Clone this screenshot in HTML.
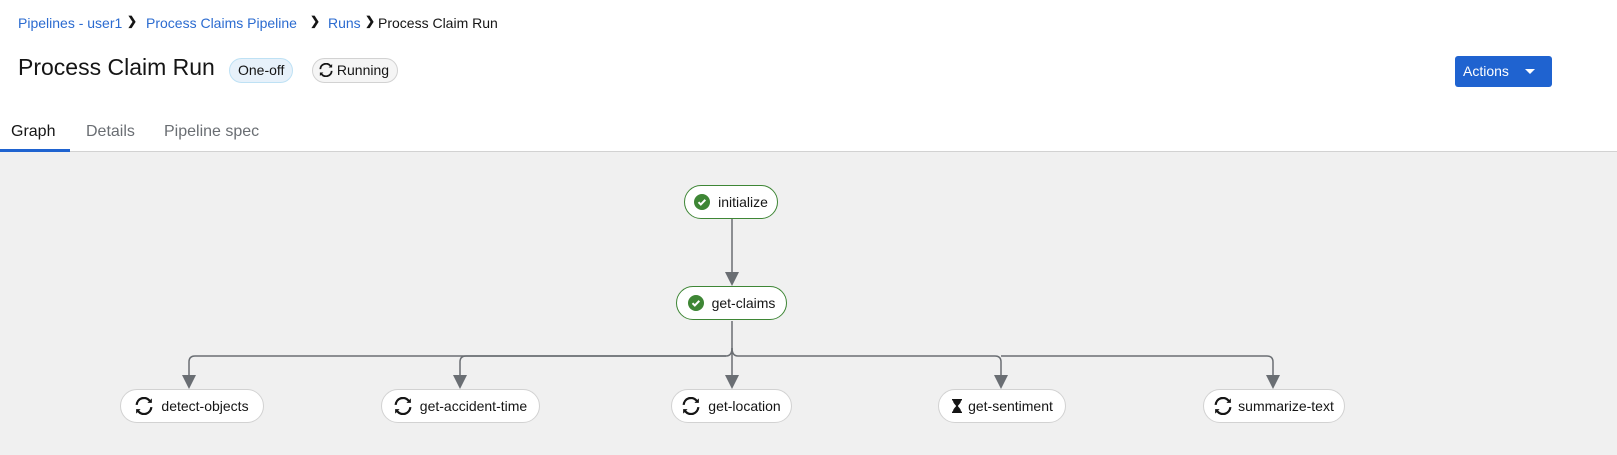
<!DOCTYPE html>
<html><head><meta charset="utf-8"><style>
*{margin:0;padding:0;box-sizing:border-box}
body{width:1617px;height:455px;overflow:hidden;background:#fff;font-family:"Liberation Sans",sans-serif;position:relative}
.a{position:absolute;white-space:nowrap}
.bc{top:15px;font-size:14px;color:#2b6bd0}
.sep{top:14px;font-size:12px;font-weight:bold;color:#151515}
.badge{top:58px;height:25px;border-radius:13px;font-size:14px;line-height:23px;padding:0 8px;color:#151515}
.tab{top:123px;font-size:16px;color:#6a6e73}
.node{position:absolute;height:34px;border-radius:17px;background:#fff;border:1px solid #d2d2d2;font-size:14px;line-height:32px;color:#151515;display:flex;align-items:center;justify-content:center;gap:8px}
.node.ok{border-color:#3e8635}
</style></head><body>
<div class="a bc" style="left:18px">Pipelines - user1</div>
<div class="a sep" style="left:127px">&#x276F;</div>
<div class="a bc" style="left:146px">Process Claims Pipeline</div>
<div class="a sep" style="left:310px">&#x276F;</div>
<div class="a bc" style="left:328px">Runs</div>
<div class="a sep" style="left:365px">&#x276F;</div>
<div class="a" style="left:378px;top:15px;font-size:14px;color:#151515">Process Claim Run</div>
<div class="a" style="left:18px;top:54px;font-size:23px;color:#151515">Process Claim Run</div>
<div class="a badge" style="left:229px;background:#e7f1fa;border:1px solid #bee1f4">One-off</div>
<div class="a badge" style="left:312px;background:#f5f5f5;border:1px solid #d2d2d2;padding-left:6px">
<svg width="14" height="14" viewBox="0 0 16 16" style="vertical-align:-2px"><path d="M2.5 7a5.5 5.5 0 0 1 9.8-3L11 5.2h4V1.2l-1.3 1.3A7.5 7.5 0 0 0 .5 7z M13.5 9a5.5 5.5 0 0 1-9.8 3L5 10.8H1v4l1.3-1.3A7.5 7.5 0 0 0 15.5 9z" fill="#151515"/></svg> Running</div>
<div class="a" style="left:1455px;top:56px;width:97px;height:31px;background:#1f63d0;border-radius:3px;color:#fff;font-size:14px;line-height:31px;padding-left:8px">Actions<span style="position:absolute;left:70px;top:13px;border-left:5px solid transparent;border-right:5px solid transparent;border-top:5px solid #fff"></span></div>
<div class="a tab" style="left:11px;color:#151515">Graph</div>
<div class="a tab" style="left:86px">Details</div>
<div class="a tab" style="left:164px">Pipeline spec</div>
<div class="a" style="left:0;top:151px;width:1617px;height:304px;background:#f0f0f0;border-top:1px solid #d2d2d2"></div>
<div class="a" style="left:0;top:149px;width:70px;height:3px;background:#1f63d0"></div>
<svg class="a" style="left:0;top:0" width="1617" height="455">
<g stroke="#6a6e73" stroke-width="1.5" fill="none">
<line x1="732" y1="219" x2="732" y2="276"/>
<line x1="732" y1="321" x2="732" y2="376"/>
<path d="M732 348 q0 8 -6 8 H195 q-6 0 -6 6 V376"/>
<path d="M726 356 H466 q-6 0 -6 6 V376" />
<path d="M732 348 q0 8 6 8 H995 q6 0 6 6 V376"/>
<path d="M1001 356 H1267 q6 0 6 6 V376"/>
</g>
<g fill="#6a6e73">
<path d="M725 272 h14 l-7 14z"/>
<path d="M725 375 h14 l-7 14z"/>
<path d="M182 375 h14 l-7 14z"/>
<path d="M453 375 h14 l-7 14z"/>
<path d="M994 375 h14 l-7 14z"/>
<path d="M1266 375 h14 l-7 14z"/>
</g>
</svg>
<div class="node ok" style="left:684px;top:185px;width:94px"><svg width="16" height="16"><circle cx="8" cy="8" r="8" fill="#3e8635"/><path d="M4.5 8.2l2.3 2.3 4.5-4.7" stroke="#fff" stroke-width="2" fill="none"/></svg>initialize</div>
<div class="node ok" style="left:676px;top:286px;width:111px"><svg width="16" height="16"><circle cx="8" cy="8" r="8" fill="#3e8635"/><path d="M4.5 8.2l2.3 2.3 4.5-4.7" stroke="#fff" stroke-width="2" fill="none"/></svg>get-claims</div>
<div class="node" style="left:120px;top:389px;width:144px"><svg width="18" height="18" viewBox="0 0 16 16"><path d="M2.5 7a5.5 5.5 0 0 1 9.8-3L11 5.2h4V1.2l-1.3 1.3A7.5 7.5 0 0 0 .5 7z M13.5 9a5.5 5.5 0 0 1-9.8 3L5 10.8H1v4l1.3-1.3A7.5 7.5 0 0 0 15.5 9z" fill="#151515"/></svg>detect-objects</div>
<div class="node" style="left:381px;top:389px;width:159px"><svg width="18" height="18" viewBox="0 0 16 16"><path d="M2.5 7a5.5 5.5 0 0 1 9.8-3L11 5.2h4V1.2l-1.3 1.3A7.5 7.5 0 0 0 .5 7z M13.5 9a5.5 5.5 0 0 1-9.8 3L5 10.8H1v4l1.3-1.3A7.5 7.5 0 0 0 15.5 9z" fill="#151515"/></svg>get-accident-time</div>
<div class="node" style="left:671px;top:389px;width:121px"><svg width="18" height="18" viewBox="0 0 16 16"><path d="M2.5 7a5.5 5.5 0 0 1 9.8-3L11 5.2h4V1.2l-1.3 1.3A7.5 7.5 0 0 0 .5 7z M13.5 9a5.5 5.5 0 0 1-9.8 3L5 10.8H1v4l1.3-1.3A7.5 7.5 0 0 0 15.5 9z" fill="#151515"/></svg>get-location</div>
<div class="node" style="left:938px;top:389px;width:128px;gap:5px"><svg width="12" height="16" viewBox="0 0 12 16"><path d="M1 1h10v1.5h-1c0 3-3 4.5-3 5.5s3 2.5 3 5.5h1V15H1v-1.5h1c0-3 3-4.5 3-5.5S2 5.5 2 2.5H1z" fill="#151515"/></svg>get-sentiment</div>
<div class="node" style="left:1203px;top:389px;width:142px;gap:6px"><svg width="18" height="18" viewBox="0 0 16 16"><path d="M2.5 7a5.5 5.5 0 0 1 9.8-3L11 5.2h4V1.2l-1.3 1.3A7.5 7.5 0 0 0 .5 7z M13.5 9a5.5 5.5 0 0 1-9.8 3L5 10.8H1v4l1.3-1.3A7.5 7.5 0 0 0 15.5 9z" fill="#151515"/></svg>summarize-text</div>
</body></html>
